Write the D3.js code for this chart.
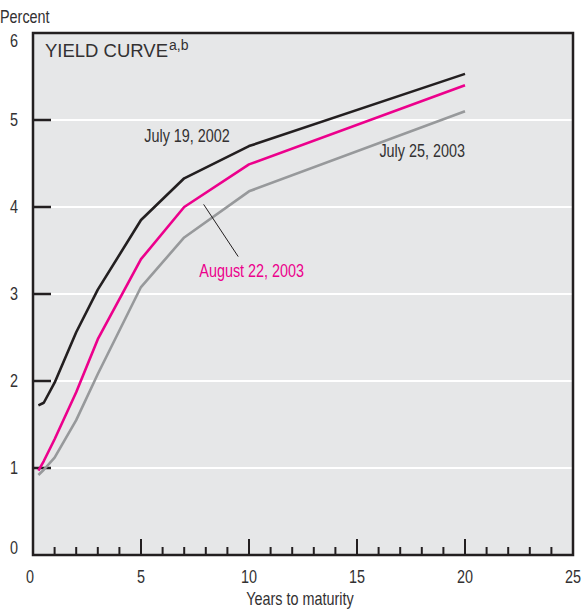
<!DOCTYPE html>
<html>
<head>
<meta charset="utf-8">
<script src="https://cdn.jsdelivr.net/npm/d3@7"></script>
<style>
  body { margin: 0; background: #fff; }
  svg text { fill: #333132; font-family: "Liberation Sans", Arial, sans-serif; }
</style>
</head>
<body>
<div id="chart"></div>
<script>
// maturities in years
var maturities = [0.25, 0.5, 1, 2, 3, 5, 7, 10, 20];
// yields, percent
var july2002 = [1.72, 1.75, 1.98, 2.56, 3.05, 3.85, 4.33, 4.70, 5.53];
var aug2003  = [0.97, 1.08, 1.33, 1.87, 2.48, 3.40, 4.00, 4.49, 5.40];
var july2003 = [0.92, 0.98, 1.12, 1.55, 2.08, 3.08, 3.65, 4.18, 5.10];

var seriesNames = ["July 19, 2002", "August 22, 2003", "July 25, 2003"];
var seriesColors = ["#231f20", "#ec008c", "#97999b"];
var yTicks = [0, 1, 2, 3, 4, 5, 6];
var xTicks = [0, 5, 10, 15, 20, 25];

var margin = {top: 33, right: 12, bottom: 55, left: 33},
    width = 585 - margin.left - margin.right,
    height = 610 - margin.top - margin.bottom;

var svg = d3.select("#chart")
  .append("svg")
    .attr("width", 585)
    .attr("height", 610);

var g = svg.append("g")
    .attr("transform", "translate(" + margin.left + "," + margin.top + ")");

var x = d3.scaleLinear().domain([0, 25]).range([0, width]);
var y = d3.scaleLinear().domain([0, 6]).range([height, 0]);

// condensed text: no narrow font installed, so squeeze horizontally
function narrowText(parent, px, py, str, anchor, size) {
  return parent.append("text")
    .attr("transform", "translate(" + px + "," + py + ") scale(0.8,1)")
    .attr("text-anchor", anchor || "start")
    .style("font-size", (size || 18) + "px")
    .text(str);
}

// panel background
g.append("rect")
  .attr("width", width)
  .attr("height", height)
  .attr("fill", "#e6e7e8");

// white gridlines
g.selectAll(".grid")
  .data(yTicks.filter(function(d) { return d > 0 && d < 6; }))
  .enter()
  .append("line")
    .attr("x1", 0).attr("x2", width)
    .attr("y1", function(d) { return y(d); })
    .attr("y2", function(d) { return y(d); })
    .attr("stroke", "#fff")
    .attr("stroke-width", 2);

// left ticks inward
g.selectAll(".ytick")
  .data(yTicks.filter(function(d) { return d > 0 && d < 6; }))
  .enter()
  .append("line")
    .attr("x1", 0).attr("x2", 18)
    .attr("y1", function(d) { return y(d); })
    .attr("y2", function(d) { return y(d); })
    .attr("stroke", "#231f20")
    .attr("stroke-width", 2.5);

// bottom ticks inward, every year, longer each 5
g.selectAll(".xtick")
  .data(d3.range(1, 25))
  .enter()
  .append("line")
    .attr("x1", function(d) { return x(d); })
    .attr("x2", function(d) { return x(d); })
    .attr("y1", height)
    .attr("y2", function(d) { return d % 5 === 0 ? height - 16 : height - 8; })
    .attr("stroke", "#231f20")
    .attr("stroke-width", 2);

// lines
var line = d3.line()
  .x(function(d) { return x(d[0]); })
  .y(function(d) { return y(d[1]); });

[july2003, aug2003, july2002].forEach(function(vals, i) {
  var k = [2, 1, 0][i];
  g.append("path")
    .datum(maturities.map(function(m, j) { return [m, vals[j]]; }))
    .attr("fill", "none")
    .attr("stroke", seriesColors[k])
    .attr("stroke-width", 2.6)
    .attr("stroke-linejoin", "round")
    .attr("d", line);
});

// frame
g.append("rect")
  .attr("width", width)
  .attr("height", height)
  .attr("fill", "none")
  .attr("stroke", "#231f20")
  .attr("stroke-width", 2.5);

// series labels
narrowText(g, x(5.15), y(4.75), seriesNames[0]);
narrowText(g, x(20), y(4.58), seriesNames[2], "end");
narrowText(g, x(7.7), y(3.2), seriesNames[1]).style("fill", seriesColors[1]);

// leader line to August curve
g.append("line")
  .attr("x1", x(7.9)).attr("y1", y(4.03))
  .attr("x2", x(9.5)).attr("y2", y(3.43))
  .attr("stroke", "#231f20")
  .attr("stroke-width", 1);

// title
var title = g.append("text")
  .attr("x", 12).attr("y", 24)
  .style("font-size", "18.5px");
title.append("tspan").text("YIELD CURVE");
title.append("tspan").attr("dx", 1).attr("dy", -7).style("font-size", "14px").text("a,b");

// y axis labels
yTicks.forEach(function(d) {
  narrowText(svg, 14, margin.top + Math.min(Math.max(y(d), 8), height - 7) + 6, d, "middle", 18);
});

narrowText(svg, 0, 23, "Percent", "start", 18);

// x axis labels
xTicks.forEach(function(d) {
  narrowText(svg, margin.left + x(d) + (d === 0 ? -3 : 0), 583, d, "middle", 18);
});

narrowText(svg, margin.left + width / 2 - 3, 605, "Years to maturity", "middle", 18);
</script>
</body>
</html>
